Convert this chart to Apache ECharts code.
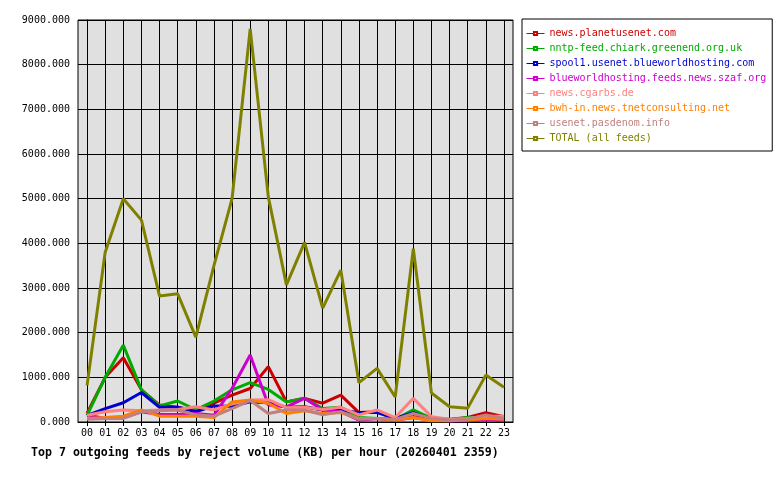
<!DOCTYPE html>
<html>
<head>
<meta charset="utf-8">
<script src="https://cdn.jsdelivr.net/npm/echarts@6/dist/echarts.min.js"></script>
<style>
html, body { margin: 0; padding: 0; background: #fff; }
#main { width: 780px; height: 480px; }
</style>
</head>
<body>
<div id="main"></div>
<script>
// hours on the x axis
var hours = ['00', '01', '02', '03', '04', '05', '06', '07', '08', '09', '10', '11',
             '12', '13', '14', '15', '16', '17', '18', '19', '20', '21', '22', '23'];

// reject volume (KB) per hour, per feed
var planetusenet = [200, 1000, 1440, 720, 380, 330, 250, 420, 600, 750, 1240, 450, 530, 420, 600, 210, 230, 80, 120, 80, 60, 100, 210, 120];
var chiark = [150, 1000, 1720, 720, 360, 470, 270, 470, 720, 880, 730, 450, 530, 300, 330, 100, 80, 60, 270, 80, 45, 100, 100, 80];
var spool1 = [150, 300, 430, 660, 330, 330, 230, 360, 350, 450, 430, 330, 340, 270, 270, 210, 210, 80, 210, 60, 30, 45, 80, 45];
var szaf = [160, 80, 100, 230, 170, 170, 190, 150, 750, 1500, 380, 340, 530, 270, 230, 40, 80, 40, 100, 40, 30, 30, 50, 30];
var cgarbs = [150, 230, 270, 250, 270, 280, 340, 270, 400, 490, 500, 320, 330, 280, 330, 160, 270, 100, 530, 120, 60, 80, 130, 130];
var tnet = [80, 100, 130, 270, 130, 130, 130, 100, 450, 490, 420, 190, 250, 190, 210, 80, 80, 45, 100, 30, 30, 45, 80, 60];
var pasdenom = [60, 80, 80, 230, 250, 270, 160, 130, 300, 480, 190, 270, 270, 160, 230, 60, 80, 60, 190, 80, 45, 60, 160, 80];
var total = [820, 3800, 5000, 4520, 2820, 2870, 1900, 3500, 5000, 8800, 5040, 3070, 4020, 2550, 3400, 880, 1200, 560, 3880, 650, 340, 310, 1050, 780];

var feedNames = ['news.planetusenet.com', 'nntp-feed.chiark.greenend.org.uk',
                 'spool1.usenet.blueworldhosting.com', 'blueworldhosting.feeds.news.szaf.org',
                 'news.cgarbs.de', 'bwh-in.news.tnetconsulting.net',
                 'usenet.pasdenom.info', 'TOTAL (all feeds)'];
var feedValues = [planetusenet, chiark, spool1, szaf, cgarbs, tnet, pasdenom, total];
var feedColors = ['#cc0000', '#00aa00', '#0000cc', '#cc00cc', '#ff8080', '#ff8000', '#c08080', '#808000'];

var hourIdx = hours.map(function (h, i) { return i; });
var mono = 'DejaVu Sans Mono';

var chartDom = document.getElementById('main');
var myChart = echarts.init(chartDom);
var option;

var series = feedNames.map(function (name, k) {
    return {
        name: name,
        type: 'line',
        symbol: 'emptyRect',
        showSymbol: false,
        animation: false,
        color: feedColors[k],
        lineStyle: { width: 3, color: feedColors[k] },
        data: feedValues[k].map(function (v, i) { return [i, v]; })
    };
});

option = {
    backgroundColor: '#ffffff',
    animation: false,
    title: {
        text: 'Top 7 outgoing feeds by reject volume (KB) per hour (20260401 2359)',
        left: 26,
        top: 442,
        textStyle: { fontFamily: mono, fontSize: 11.6, fontWeight: 'bold', color: '#000' }
    },
    legend: {
        orient: 'vertical',
        left: 522,
        top: 19,
        padding: [7, 6, 5, 4],
        itemGap: 0,
        itemWidth: 18,
        itemHeight: 4,
        borderColor: '#000',
        borderWidth: 1,
        backgroundColor: '#fff',
        lineStyle: { width: 1 },
        textStyle: { fontFamily: mono, fontSize: 10, lineHeight: 15 },
        data: feedNames.map(function (n, k) {
            return { name: n, textStyle: { color: feedColors[k] } };
        })
    },
    grid: {
        left: 78,
        top: 20,
        right: 267,
        bottom: 58,
        show: true,
        backgroundColor: '#e0e0e0',
        borderColor: '#000',
        borderWidth: 1
    },
    xAxis: {
        type: 'value',
        min: -0.5,
        max: 23.5,
        axisLine: { onZero: false, lineStyle: { color: '#000', width: 1 } },
        axisTick: { customValues: hourIdx, length: 4, lineStyle: { color: '#000' } },
        axisLabel: {
            customValues: hourIdx,
            formatter: function (v) { return hours[v]; },
            fontFamily: mono, fontSize: 10, color: '#000', margin: 6
        },
        splitLine: { show: true, lineStyle: { color: '#000', width: 1 } }
    },
    yAxis: {
        type: 'value',
        min: 0,
        max: 9000,
        interval: 1000,
        axisLine: { show: true, lineStyle: { color: '#000', width: 1 } },
        axisTick: { show: true, length: 4, lineStyle: { color: '#000' } },
        axisLabel: {
            formatter: function (v) { return v.toFixed(3); },
            fontFamily: mono, fontSize: 10, color: '#000', margin: 8
        },
        splitLine: { show: true, lineStyle: { color: '#000', width: 1 } }
    },
    series: series
};

option && myChart.setOption(option);
</script>
</body>
</html>
